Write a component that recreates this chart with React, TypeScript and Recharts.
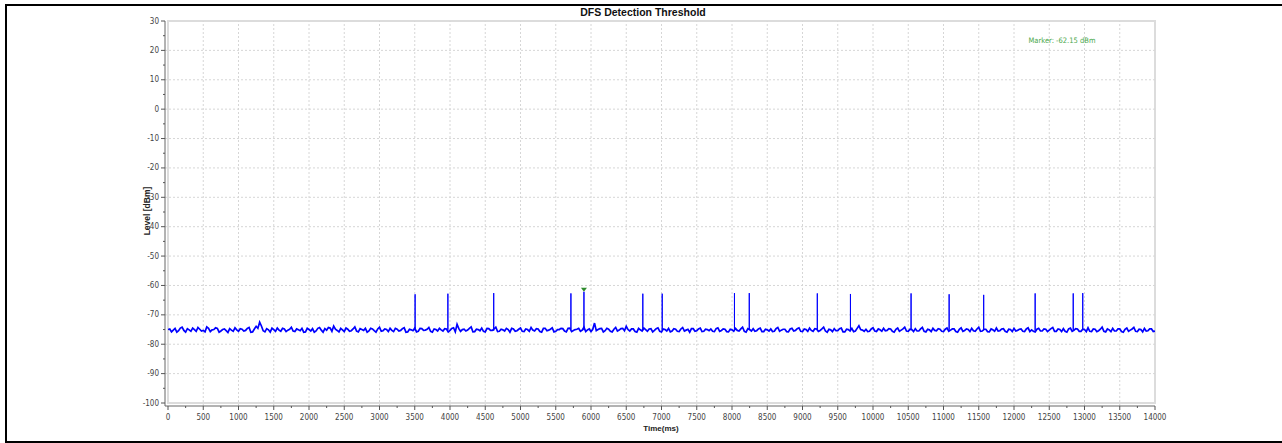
import { LineChart, Line, XAxis, YAxis, ReferenceLine, ReferenceArea, ReferenceDot } from 'recharts';

// noise floor, one reading every 50 ms from 0 to 14000 ms
const noiseStep = 50;
const noiseLevels = [
  -75.0, -75.8, -74.6, -75.4, -74.2, -75.9, -75.1, -74.5, -75.6, -74.9, -75.3, -74.1, -75.7, -75.0, -74.6, -75.5, -74.8, -76.0, -75.2, -74.4,
  -75.6, -74.9, -75.3, -74.3, -75.8, -73.9, -72.5, -75.4, -74.7, -75.9, -75.0, -74.5, -75.6, -74.8, -75.2, -74.2, -75.7, -75.1, -74.6, -75.8,
  -75.0, -74.7, -75.5, -74.3, -75.9, -75.2, -74.5, -73.8, -75.3, -74.6, -75.7, -74.9, -75.4, -74.1, -75.8, -75.0, -74.6, -75.5, -74.8, -75.9,
  -74.2, -75.4, -75.0, -74.6, -75.7, -74.9, -75.3, -74.4, -75.8, -75.1, -74.5, -75.6, -74.7, -75.2, -74.3, -75.9, -75.0, -74.6, -75.5, -74.8,
  -75.3, -74.4, -73.2, -75.6, -74.9, -75.2, -74.1, -75.7, -75.0, -74.5, -75.8, -74.7, -75.3, -74.2, -75.6, -75.1, -74.6, -75.9, -74.8, -75.4,
  -74.5, -75.7, -75.0, -74.3, -75.5, -74.8, -75.9, -74.6, -75.2, -74.4, -75.6, -75.0, -74.7, -75.8, -74.5, -75.3, -74.9, -75.6, -74.2, -75.1,
  -75.7, -72.8, -75.0, -74.6, -75.4, -74.9, -75.8, -74.3, -75.2, -74.6, -73.9, -75.5, -74.8, -75.9, -75.1, -74.5, -75.6, -74.7, -75.3, -74.4,
  -75.8, -75.0, -74.6, -75.5, -74.9, -75.7, -74.3, -75.2, -75.9, -74.7, -75.4, -74.5, -75.6, -75.0, -74.8, -75.7, -74.4, -75.3, -74.9, -75.8,
  -75.1, -74.6, -75.5, -74.2, -75.9, -75.0, -74.7, -75.4, -74.5, -75.7, -75.1, -74.8, -75.6, -74.3, -75.2, -74.9, -75.8, -74.6, -75.3, -74.4,
  -75.7, -75.0, -74.5, -75.6, -74.8, -75.3, -74.2, -75.9, -75.1, -74.7, -75.4, -74.5, -75.8, -75.0, -74.6, -75.5, -73.7, -75.2, -74.9, -75.6,
  -74.4, -75.7, -75.1, -74.6, -75.3, -74.8, -75.9, -74.5, -75.2, -74.2, -75.6, -75.0, -74.7, -75.5, -74.3, -75.8, -75.1, -74.6, -75.4, -74.9,
  -75.7, -74.5, -75.2, -74.8, -75.9, -74.4, -75.3, -75.0, -74.6, -75.6, -74.2, -75.5, -74.9, -75.8, -75.1, -74.5, -75.4, -74.7, -75.9, -75.0,
  -74.6, -75.3, -74.8, -75.7, -74.4, -75.1, -75.8, -74.6, -75.5, -74.9, -75.2, -74.3, -75.6, -75.0, -74.7, -75.9, -74.5, -75.3, -74.8, -75.6,
  -75.0, -74.4, -75.7, -74.9, -75.4, -74.2, -75.8, -75.1, -74.6, -75.5, -74.8, -75.9, -74.5, -75.2, -74.3, -75.7, -75.0, -74.6, -75.4, -74.8,
  -75.5,
];
// in-between readings, at 25 ms + every 50 ms
const noiseLevelsMid = [
  -74.8, -75.2, -75.9, -74.5, -75.3, -74.7, -75.6, -75.0, -74.3, -75.5, -75.8, -74.6, -75.1, -74.4, -75.9, -75.0, -75.4, -74.7, -75.6, -75.1,
  -74.7, -75.5, -74.6, -75.9, -74.8, -74.6, -73.8, -75.8, -75.1, -74.5, -75.6, -75.2, -74.6, -75.7, -74.9, -75.5, -74.8, -75.4, -75.9, -74.6,
  -75.5, -75.9, -74.6, -75.2, -74.7, -74.3, -75.6, -74.9, -75.8, -75.1, -74.5, -75.6, -74.8, -75.5, -74.7, -75.3, -75.9, -74.6, -75.4, -74.8,
  -75.6, -74.8, -75.7, -75.3, -74.6, -75.5, -74.7, -75.9, -74.9, -75.4, -75.8, -74.6, -75.3, -74.9, -75.6, -74.8, -75.5, -75.1, -74.7, -75.8,
  -74.6, -75.8, -74.7, -75.0, -75.5, -74.6, -75.8, -74.9, -75.4, -75.6, -74.6, -75.3, -74.8, -75.7, -74.9, -75.5, -75.0, -74.6, -75.6, -74.9,
  -75.6, -74.8, -75.6, -75.2, -74.7, -75.7, -74.6, -75.4, -74.9, -75.8, -75.0, -74.6, -75.5, -74.6, -75.7, -75.0, -74.6, -75.2, -75.7, -74.8,
  -74.9, -75.4, -74.7, -75.8, -74.6, -75.6, -74.9, -75.5, -74.7, -75.4, -75.0, -74.8, -75.7, -74.6, -75.5, -75.0, -74.8, -75.8, -74.7, -75.6,
  -74.8, -75.5, -75.8, -74.7, -75.6, -74.8, -75.5, -74.9, -74.7, -75.6, -74.8, -75.7, -74.9, -75.4, -75.6, -74.7, -75.6, -74.8, -75.7, -74.9,
  -75.6, -75.3, -74.8, -75.6, -74.7, -75.5, -75.6, -74.8, -75.7, -74.9, -75.5, -75.7, -74.7, -75.6, -74.9, -75.7, -74.8, -75.5, -74.7, -75.6,
  -74.8, -75.6, -75.3, -74.7, -75.6, -74.8, -75.5, -74.9, -75.7, -75.4, -74.7, -75.8, -74.9, -75.5, -75.7, -74.6, -75.0, -75.6, -75.7, -74.8,
  -75.5, -74.8, -75.6, -75.4, -74.7, -75.6, -74.9, -75.6, -74.8, -75.5, -74.9, -75.7, -75.5, -74.8, -75.6, -74.9, -75.7, -75.3, -74.7, -75.6,
  -74.9, -75.6, -74.8, -75.7, -74.9, -75.6, -74.8, -75.7, -75.4, -74.8, -75.6, -74.9, -75.7, -74.8, -75.6, -75.5, -74.8, -75.6, -74.9, -75.7,
  -75.5, -74.9, -75.6, -74.8, -75.7, -75.6, -74.9, -75.5, -74.8, -75.7, -74.7, -75.6, -74.8, -75.7, -75.6, -74.8, -75.6, -74.7, -75.6, -74.9,
  -75.7, -75.6, -74.8, -75.7, -74.9, -75.6, -74.8, -75.7, -75.5, -74.8, -75.7, -74.9, -75.6, -74.8, -75.6, -74.9, -75.8, -75.5, -74.8, -75.7,
];

// radar pulses
const pulseTimes = [3505, 3970, 4620, 5715, 5900, 6735, 7010, 8035, 8245, 9210, 9680, 10540, 11080, 11570, 12300, 12840, 12975];
const pulsePeaks = [-63.0, -62.8, -62.6, -62.7, -62.15, -62.8, -62.8, -62.6, -62.6, -62.7, -62.9, -62.7, -63.0, -63.2, -62.7, -62.7, -62.6];
const pulseBase = [-75.3, -75.1, -75.4, -75.0, -75.2, -75.3, -75.1, -75.4, -75.2, -75.0, -75.3, -75.2, -75.1, -75.3, -75.4, -75.2, -75.0];

const markerTime = 5900;
const markerLevel = -62.15;

const xLabels = [0, 500, 1000, 1500, 2000, 2500, 3000, 3500, 4000, 4500, 5000, 5500, 6000, 6500, 7000,
  7500, 8000, 8500, 9000, 9500, 10000, 10500, 11000, 11500, 12000, 12500, 13000, 13500, 14000];
const yLabels = [-100, -90, -80, -70, -60, -50, -40, -30, -20, -10, 0, 10, 20, 30];

// minor ticks halfway between labels
const xTicks = xLabels.flatMap((v, i) => (i === 0 ? [v] : [v - 250, v]));
const yTicks = yLabels.flatMap((v, i) => (i === 0 ? [v] : [v - 5, v]));

const noiseData: { t: number; v: number }[] = [];
noiseLevels.forEach((v, i) => noiseData.push({ t: i * noiseStep, v }));
noiseLevelsMid.forEach((v, i) => noiseData.push({ t: i * noiseStep + noiseStep / 2, v }));
noiseData.sort((a, b) => a.t - b.t);

// each pulse: up and back down at the same instant, gaps between pulses
const pulseData: { t: number; v: number | null }[] = [];
pulseTimes.forEach((t, i) => {
  pulseData.push({ t, v: pulseBase[i] });
  pulseData.push({ t, v: pulsePeaks[i] });
  pulseData.push({ t, v: pulseBase[i] });
  pulseData.push({ t: t + 1, v: null });
});

const font = "'Liberation Sans Narrow', 'DejaVu Sans Condensed', Arial, sans-serif";
const boldFont = "'Liberation Sans', Arial, sans-serif";

function XTick(props: any) {
  const { x, y, payload } = props;
  const major = payload.value % 500 === 0;
  return (
    <g>
      <line x1={x} y1={y} x2={x} y2={y + (major ? 4 : 2)} stroke="#555" />
      {major && (
        <text x={x} y={y + 11} textAnchor="middle" dominantBaseline="central" fontSize={8} fill="#444" fontFamily={font}>
          {payload.value}
        </text>
      )}
    </g>
  );
}

function YTick(props: any) {
  const { x, y, payload } = props;
  const major = payload.value % 10 === 0;
  return (
    <g>
      <line x1={x - (major ? 4 : 2)} y1={y} x2={x} y2={y} stroke="#555" />
      {major && (
        <text x={x - 6} y={y} textAnchor="end" dominantBaseline="central" fontSize={8} fill="#444" fontFamily={font}>
          {payload.value}
        </text>
      )}
    </g>
  );
}

function MarkerShape(props: any) {
  const { cx, cy } = props;
  return <path d={`M${cx - 3},${cy - 4} L${cx + 3},${cy - 4} L${cx},${cy} Z`} fill="#2e8b2e" />;
}

export default function App() {
  return (
    <div style={{ position: 'absolute', left: 0, top: 0, width: 1282, height: 443, background: '#fff', overflow: 'hidden' }}>
      <div style={{ position: 'absolute', left: 5, top: 4, width: 1277, height: 439, boxSizing: 'border-box',
        borderLeft: '2px solid #000', borderTop: '2px solid #000', borderBottom: '2px solid #000' }} />
      <LineChart width={1282} height={443} margin={{ top: 21, right: 127, bottom: 7, left: 105 }}>
        <ReferenceArea x1={0} x2={14000} y1={-100} y2={30} fill="none" stroke="#dcdcdc" strokeWidth={2} />
        {xLabels.slice(1, -1).map((v) => (
          <ReferenceLine key={'x' + v} x={v} stroke="#d6d6d6" strokeDasharray="2 2" />
        ))}
        {yLabels.slice(1, -1).map((v) => (
          <ReferenceLine key={'y' + v} y={v} stroke="#d6d6d6" strokeDasharray="2 2" />
        ))}
        <XAxis type="number" dataKey="t" domain={[0, 14000]} ticks={xTicks} interval={0} tick={XTick}
          tickSize={0} tickMargin={0} tickLine={false} axisLine={{ stroke: '#666' }} height={30}
          padding={{ left: 3, right: 0 }} allowDataOverflow />
        <YAxis type="number" domain={[-100, 30]} ticks={yTicks} interval={0} tick={YTick}
          tickSize={0} tickMargin={0} tickLine={false} axisLine={{ stroke: '#666' }} width={60}
          padding={{ top: 0, bottom: 3 }} allowDataOverflow />
        <Line data={noiseData} type="linear" dataKey="v" stroke="#0000ff" strokeWidth={1.7} dot={false} isAnimationActive={false} />
        <Line data={pulseData} type="linear" dataKey="v" stroke="#0000ff" strokeWidth={1} dot={false} connectNulls={false} isAnimationActive={false} />
        <ReferenceDot x={markerTime} y={markerLevel} shape={MarkerShape} />
      </LineChart>
      <div style={{ position: 'absolute', left: 543, top: 6, width: 200, textAlign: 'center',
        fontFamily: boldFont, fontWeight: 'bold', fontSize: 10.5, color: '#111' }}>DFS Detection Threshold</div>
      <div style={{ position: 'absolute', left: 1012, top: 36, width: 100, textAlign: 'center',
        fontFamily: font, fontSize: 7.5, color: '#4aa84a' }}>Marker: -62.15 dBm</div>
      <div style={{ position: 'absolute', left: 97, top: 206, width: 100, textAlign: 'center',
        transform: 'rotate(-90deg)', fontFamily: boldFont, fontWeight: 'bold', fontSize: 8.5, color: '#222' }}>Level [dBm]</div>
      <div style={{ position: 'absolute', left: 611, top: 424, width: 100, textAlign: 'center',
        fontFamily: boldFont, fontWeight: 'bold', fontSize: 8, color: '#222' }}>Time(ms)</div>
    </div>
  );
}
